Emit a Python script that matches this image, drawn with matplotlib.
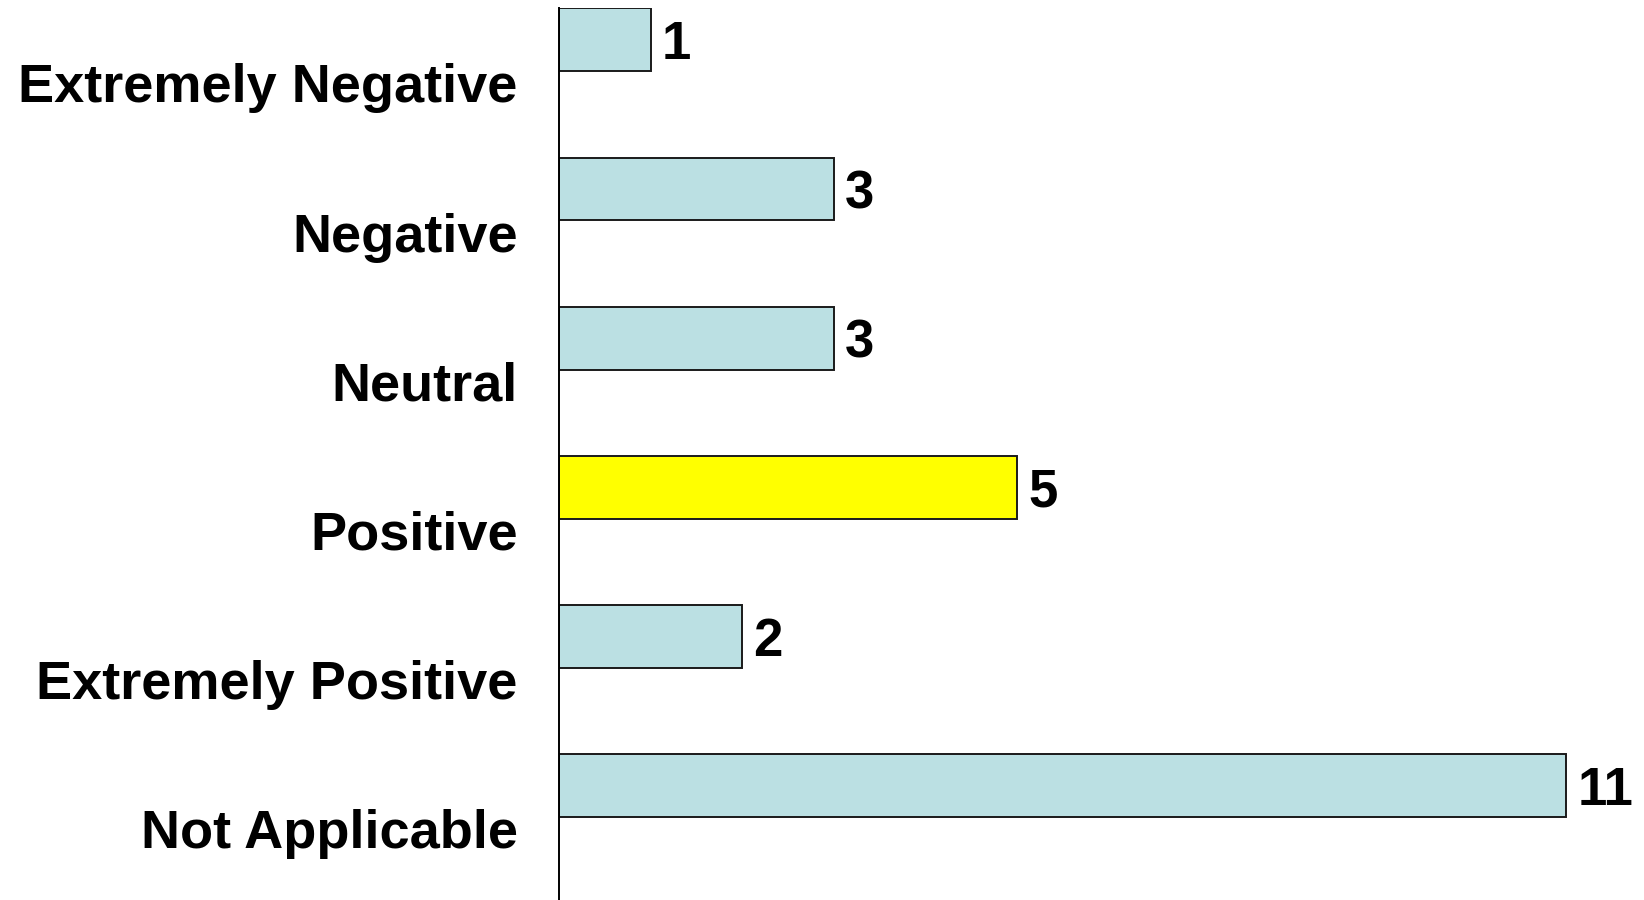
import matplotlib
matplotlib.use("Agg")
import matplotlib.pyplot as plt
import numpy as np

categories = ["Extremely Negative", "Negative", "Neutral", "Positive",
              "Extremely Positive", "Not Applicable"]
values = [1, 3, 3, 5, 2, 11]
bar_colors = ["#BBE0E3", "#BBE0E3", "#BBE0E3", "#FFFF00", "#BBE0E3", "#BBE0E3"]

plt.rcParams['font.family'] = ['Liberation Sans', 'DejaVu Sans']

W, H = 1644, 900
fig = plt.figure(figsize=(W / 100, H / 100), dpi=100)
left = 559.3 / W
top = 1 - 8.3 / H
height = 895.2 / H
ax = fig.add_axes([left, top - height, 1 - left, height])

idx = np.arange(len(categories))
bar_h = 0.422
ax.barh(idx - 0.5, values, height=bar_h, align='edge', color=bar_colors,
        edgecolor="#1a1a1a", linewidth=1.4)

for i, v in zip(idx, values):
    ax.text(v + 0.12, i - 0.5 + bar_h / 2, str(v), va='center_baseline', ha='left',
            fontsize=38, fontweight='bold', color='black')

ax.set_ylim(len(categories) - 0.5, -0.5)
ax.set_xlim(0, (W - 559.3) / 91.55)
ax.set_yticks(idx)
ax.set_yticklabels(categories, fontsize=39, fontweight='bold')
ax.tick_params(axis='y', length=0, pad=30)
ax.set_xticks([])
for s in ['top', 'right', 'bottom']:
    ax.spines[s].set_visible(False)
ax.spines['left'].set_linewidth(1.4)
ax.spines['left'].set_color('black')

fig.savefig("out.png", dpi=100)
